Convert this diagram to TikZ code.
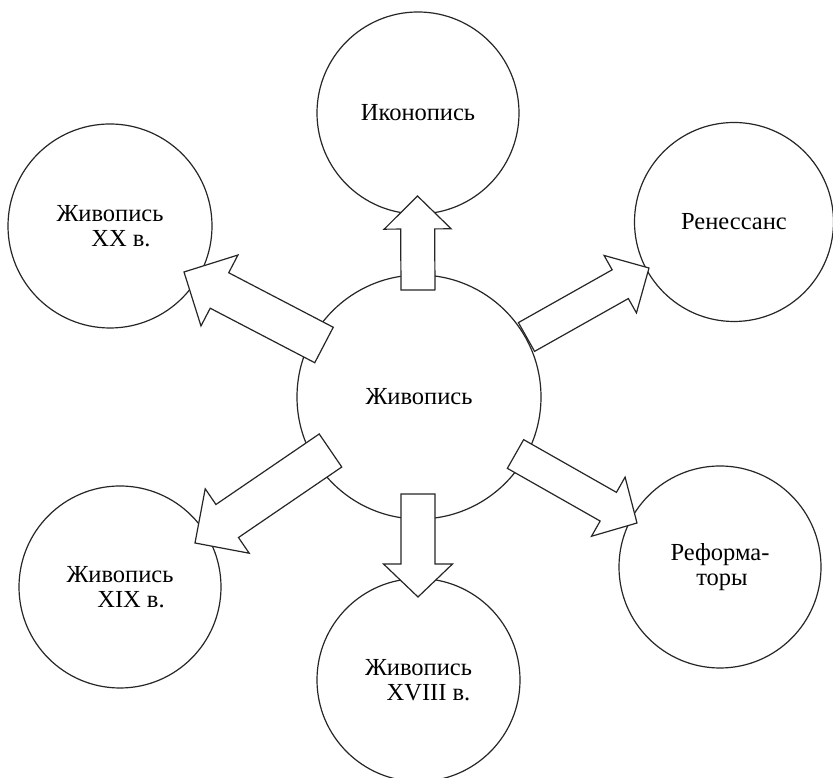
\documentclass[tikz,border=0pt]{standalone}
\usepackage{fontspec}
\setmainfont{Liberation Serif}
\usetikzlibrary{calc}
\tikzset{
  bubble/.style={circle, draw=black!85, line width=1.2pt, fill=white, inner sep=0pt,
    align=center, font=\fontsize{24.5}{25.5}\selectfont},
  blockarr/.style={draw=black!85, line width=1.2pt, fill=white, line join=miter},
}
% #1 start, #2 tip, #3 half shaft width, #4 half head width, #5 head length
\newcommand{\blockarrow}[5]{%
  \coordinate (ba-c) at ($(#2)!#5!(#1)$);
  \draw[blockarr] ($(#1)!#3!90:(#2)$) -- ($(ba-c)!#3!90:(#2)$) -- ($(ba-c)!#4!90:(#2)$)
    -- (#2) -- ($(ba-c)!#4!-90:(#2)$) -- ($(ba-c)!#3!-90:(#2)$) -- ($(#1)!#3!-90:(#2)$) -- cycle;
}
\begin{document}
\begin{tikzpicture}[x=1pt, y=1pt]
\useasboundingbox (0,0) rectangle (833,778);
\fill[white] (0,0) rectangle (833,778);

\node[bubble, minimum size=244pt] (C) at (419,381) {Живопись};
\node[bubble, minimum size=202pt] (ikon) at (418,665) {Иконопись};
\node[bubble, minimum size=204pt] (xx) at (110,552) {Живопись\\\hspace*{22pt}XX в.};
\node[bubble, minimum size=199pt] (ren) at (734,556) {Ренессанс};
\node[bubble, minimum size=202pt] (ref) at (720,211) {Реформа-\\\hspace*{4pt}торы};
\node[bubble, minimum size=202pt] (xix) at (120,191) {Живопись\\\hspace*{22pt}XIX в.};
\node[bubble, minimum size=203pt] (xviii) at (418.5,98) {Живопись\\\hspace*{20pt}XVIII в.};

\coordinate (sU) at ($(C.center)+(-1,107)$);
\coordinate (tU) at ($(ikon.center)+(-0.5,-83)$);
\coordinate (sD) at ($(C.center)+(-1,-97)$);
\coordinate (tD) at ($(xviii.center)+(-0.5,83)$);
\coordinate (sXX) at ($(C.center)+(-95,52)$);
\coordinate (tXX) at ($(xx.center)+(74,-46)$);
\coordinate (sRen) at ($(C.center)+(107.5,60)$);
\coordinate (tRen) at ($(ren.center)+(-85,-46)$);
\coordinate (sRef) at ($(C.center)+(96.5,-57)$);
\coordinate (tRef) at ($(ref.center)+(-83,44)$);
\coordinate (sXIX) at ($(C.center)+(-88.5,-53.5)$);
\coordinate (tXIX) at ($(xix.center)+(75,44)$);

\blockarrow{sU}{tU}{17pt}{33.5pt}{33pt}
\blockarrow{sD}{tD}{17pt}{34.5pt}{33pt}
\blockarrow{sXX}{tXX}{20pt}{40pt}{40pt}
\blockarrow{sRen}{tRen}{16.5pt}{33pt}{33pt}
\blockarrow{sRef}{tRef}{16.5pt}{34pt}{33pt}
\blockarrow{sXIX}{tXIX}{20pt}{39pt}{39pt}
\end{tikzpicture}
\end{document}
